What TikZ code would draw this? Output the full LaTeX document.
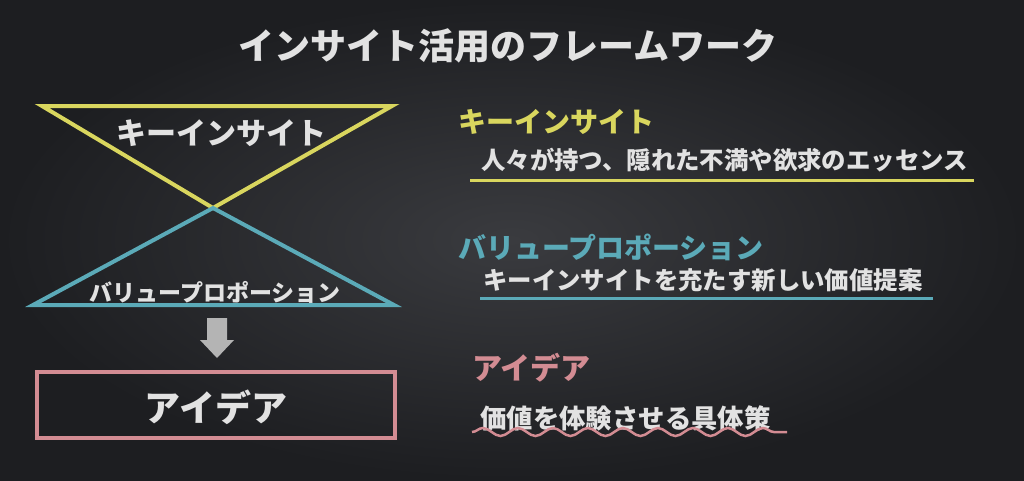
\documentclass[tikz,border=0pt]{standalone}
\usepackage{fontspec}
\newfontfamily\jp{Noto Sans CJK JP}
\usetikzlibrary{positioning,decorations.pathmorphing}
\definecolor{chalkyellow}{HTML}{D9D65E}
\definecolor{chalkblue}{HTML}{5BAAB8}
\definecolor{chalkpink}{HTML}{D38C93}
\definecolor{chalkwhite}{HTML}{E2E2E2}
\definecolor{chalkgray}{HTML}{B4B4B4}
\definecolor{boardin}{HTML}{3A3B3F}
\definecolor{boardout}{HTML}{1D1E21}

\begin{document}
\begin{tikzpicture}[x=1pt,y=-1pt]
		\tikzstyle{every node}=[inner sep=0pt, text=chalkwhite]
		\tikzstyle{chalk}=[line width=4pt]
		\tikzstyle{head}=[anchor=west, font=\jp\bfseries\fontsize{28}{28}\selectfont]
		\tikzstyle{body}=[anchor=west, font=\jp\bfseries\fontsize{24.4}{24.4}\selectfont]
		
		% tafel
		\fill[inner color=boardin, outer color=boardout] (0,0) rectangle (1024,480);
		\useasboundingbox (0,0) rectangle (1024,480);
		
		\node (title) at (508,46) {\jp\bfseries\fontsize{36}{36}\selectfont インサイト活用のフレームワーク};
		
		% sanduhr
		\coordinate (ytl) at (42,106);
		\coordinate (ytr) at (392,106);
		\coordinate (mid) at (213,208);
		\coordinate (bbl) at (33,305);
		\coordinate (bbr) at (394,305);
		\draw[chalk, chalkyellow] (ytl) -- (ytr) -- (mid) -- cycle;
		\draw[chalk, chalkblue] (bbl) -- (bbr) -- (mid) -- cycle;
		
		\node (ki) at (221,133) {\jp\bfseries\fontsize{30}{30}\selectfont キーインサイト};
		\node (vp) at (215,292) {\jp\bfseries\fontsize{23}{23}\selectfont バリュープロポーション};
		
		\fill[chalkgray] (207,318) -- (227,318) -- (227,340) -- (234,340) -- (217,358) -- (200,340) -- (207,340) -- cycle;
		
		\node[draw=chalkpink, chalk, minimum width=358pt, minimum height=66pt] (idea) at (216,405) {};
		\node (ideatext) at (216,407) {\jp\bfseries\fontsize{36}{36}\selectfont アイデア};
		
		% rechte seite
		\node[head, text=chalkyellow] (h1) at (458,122) {キーインサイト};
		\node[body] (b1) at (481,160) {人々が持つ、隠れた不満や欲求のエッセンス};
		\coordinate (u1a) at (470,180);
		\coordinate (u1b) at (974,180);
		\draw[chalkyellow, line width=3pt] (u1a) -- (u1b);
		
		\node[head, text=chalkblue] (h2) at (458,247) {バリュープロポーション};
		\node[body] (b2) at (483,280) {キーインサイトを充たす新しい価値提案};
		\coordinate (u2a) at (480,298);
		\coordinate (u2b) at (933,298);
		\draw[chalkblue, line width=3pt] (u2a) -- (u2b);
		
		\node[head, text=chalkpink, font=\jp\bfseries\fontsize{30}{30}\selectfont] (h3) at (472,368) {アイデア};
		\node[body, font=\jp\bfseries\fontsize{26.4}{26.4}\selectfont] (b3) at (480,418) {価値を体験させる具体策};
		\coordinate (u3a) at (472,432);
		\coordinate (u3b) at (787,432);
		\draw[chalkpink, line width=2.5pt, decorate, decoration={snake, segment length=35pt, amplitude=4pt}] (u3a) -- (u3b);
		\end{tikzpicture}
\end{document}
